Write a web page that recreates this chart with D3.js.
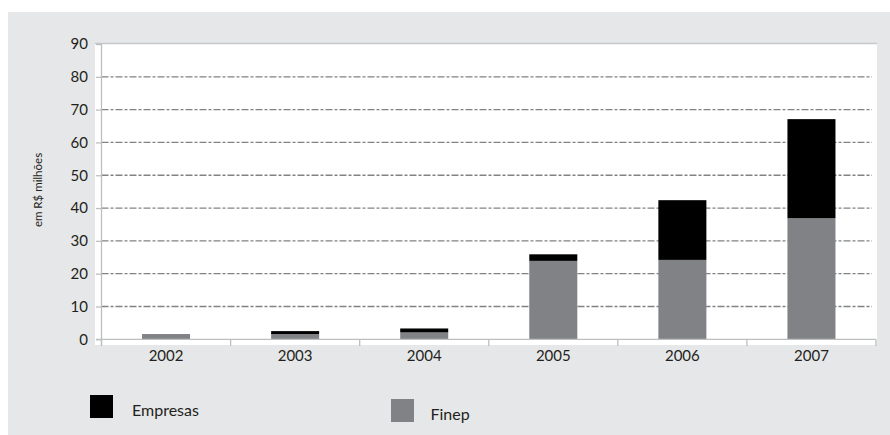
<!DOCTYPE html>
<html>
<head>
<meta charset="utf-8">
<script src="https://cdn.jsdelivr.net/npm/d3@7"></script>
<style>
  body { margin: 0; background: #fff; }
  svg { display: block; }
  text { font-family: Lato, "Open Sans", sans-serif; fill: #231f20; }
</style>
</head>
<body>
<div class="canvas"></div>
<script>
const years = ["2002", "2003", "2004", "2005", "2006", "2007"];
const finep = [1.6, 1.6, 2.1, 23.9, 24.2, 36.9];
const empresas = [0, 0.9, 1.2, 2.0, 18.2, 30.2];
const yTicks = [0, 10, 20, 30, 40, 50, 60, 70, 80, 90];

const dims = { width: 890, height: 435 };
const plot = { left: 101.5, right: 876, top: 44, bottom: 339.3 };

const svg = d3
  .select(".canvas")
  .append("svg")
  .attr("width", dims.width)
  .attr("height", dims.height);

// gray panel + white plot box
svg.append("rect")
  .attr("x", 8).attr("y", 12)
  .attr("width", dims.width - 8).attr("height", dims.height - 12)
  .attr("fill", "#e6e7e8");

svg.append("rect")
  .attr("x", 95).attr("y", 43)
  .attr("width", 877 - 95).attr("height", 345 - 43)
  .attr("fill", "#fff");

svg.append("line")
  .attr("x1", 95).attr("x2", 877)
  .attr("y1", 43.5).attr("y2", 43.5)
  .attr("stroke", "#c7c8ca").attr("stroke-width", 1.5);

const x = d3.scaleBand().domain(years).range([plot.left, plot.right]);
const y = d3.scaleLinear().domain([0, 90]).range([plot.bottom, plot.top]);

// gridlines
svg.append("g")
  .selectAll("line")
  .data(yTicks.filter((d) => d > 0 && d < 90))
  .enter()
  .append("line")
  .attr("x1", plot.left)
  .attr("x2", 872)
  .attr("y1", (d) => y(d))
  .attr("y2", (d) => y(d))
  .attr("stroke", "#808285")
  .attr("stroke-width", 1.3)
  .attr("stroke-dasharray", "7,2,3,2");

// stacked bars
const rows = years.map((yr, i) => ({ year: yr, finep: finep[i], empresas: empresas[i] }));
const stack = d3.stack().keys(["finep", "empresas"]);
const color = d3.scaleOrdinal().domain(["finep", "empresas"]).range(["#808285", "#000000"]);
const barW = x.bandwidth() * 0.372;

svg.append("g")
  .selectAll("g")
  .data(stack(rows))
  .enter()
  .append("g")
  .attr("fill", (s) => color(s.key))
  .selectAll("rect")
  .data((s) => s)
  .enter()
  .append("rect")
  .attr("x", (d) => x(d.data.year) + (x.bandwidth() - barW) / 2)
  .attr("width", barW)
  .attr("y", (d) => y(d[1]))
  .attr("height", (d) => y(d[0]) - y(d[1]));

// axes
const axisColor = "#bcbec0";

const yAxis = svg.append("g")
  .attr("transform", `translate(${plot.left}, 0)`)
  .call(d3.axisLeft(y).tickValues(yTicks).tickSize(5.5).tickPadding(8));
yAxis.select(".domain").remove();
yAxis.selectAll(".tick line").attr("stroke", axisColor).attr("stroke-width", 1.3);
yAxis.selectAll(".tick text")
  .attr("font-size", 15)
  .style("font-family", "Lato, sans-serif")
  .attr("fill", "#231f20");

svg.append("line")
  .attr("x1", plot.left).attr("x2", plot.left)
  .attr("y1", plot.top).attr("y2", 345)
  .attr("stroke", axisColor).attr("stroke-width", 1.3);

svg.append("line")
  .attr("x1", 96).attr("x2", plot.right)
  .attr("y1", plot.bottom).attr("y2", plot.bottom)
  .attr("stroke", axisColor).attr("stroke-width", 1.3);

// band boundary ticks
const bounds = years.map((yr) => x(yr)).concat([plot.right]);
svg.append("g")
  .selectAll("line")
  .data(bounds)
  .enter()
  .append("line")
  .attr("x1", (d) => d).attr("x2", (d) => d)
  .attr("y1", plot.bottom).attr("y2", 346)
  .attr("stroke", axisColor).attr("stroke-width", 1.3);

// year labels
svg.append("g")
  .selectAll("text")
  .data(years)
  .enter()
  .append("text")
  .attr("x", (d) => x(d) + x.bandwidth() / 2)
  .attr("y", 361)
  .attr("text-anchor", "middle")
  .attr("font-size", 15)
  .text((d) => d);

// y axis title
svg.append("text")
  .attr("transform", "translate(42, 190) rotate(-90)")
  .attr("text-anchor", "middle")
  .attr("font-size", 11.5)
  .text("em R$ milhões");

// legend
const legendItems = [
  { key: "empresas", label: "Empresas", x: 90, y: 395 },
  { key: "finep", label: "Finep", x: 391, y: 399 }
];
const legend = svg.append("g")
  .selectAll("g")
  .data(legendItems)
  .enter()
  .append("g")
  .attr("transform", (d) => `translate(${d.x}, ${d.y})`);

legend.append("rect")
  .attr("width", 23).attr("height", 23)
  .attr("fill", (d) => color(d.key));

legend.append("text")
  .attr("x", (d) => (d.key === "empresas" ? 42 : 39.5))
  .attr("y", 21)
  .attr("font-size", 16)
  .text((d) => d.label);
</script>
</body>
</html>
